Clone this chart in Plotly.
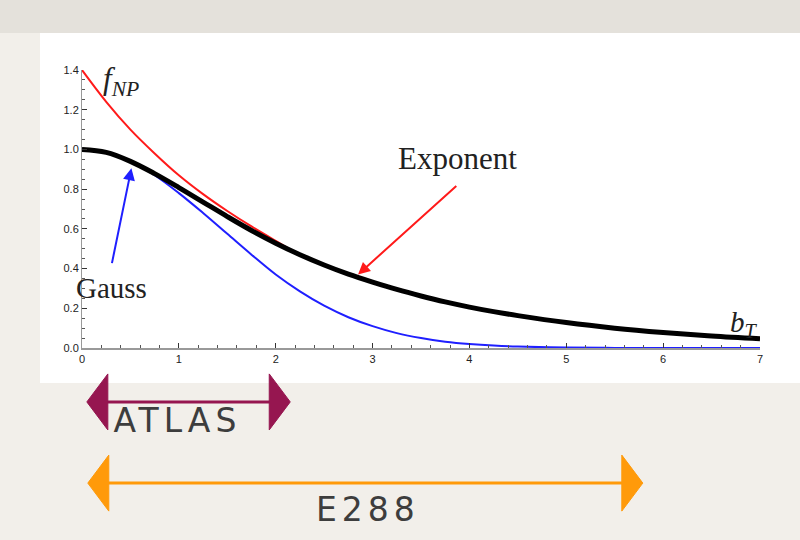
import plotly.graph_objects as go

# ---- data ----
bt_grid = [0, 0.25, 0.5, 0.75, 1.0, 1.25, 1.5, 1.75, 2.0, 2.25, 2.5, 2.75, 3.0,
           3.25, 3.5, 3.75, 4.0, 4.25, 4.5, 5.0, 5.5, 6.0, 6.5, 7.0]
f_black = [1.0, 0.985, 0.940, 0.878, 0.808, 0.735, 0.662, 0.592, 0.528, 0.470, 0.418,
           0.372, 0.332, 0.295, 0.262, 0.232, 0.206, 0.183, 0.163, 0.128, 0.100,
           0.078, 0.060, 0.046]
f_exponent = [1.40, 1.24, 1.10, 0.98, 0.87, 0.775, 0.69, 0.612, 0.54, 0.470, 0.418,
              0.372, 0.332, 0.295, 0.262, 0.232, 0.206, 0.183, 0.163, 0.128, 0.100,
              0.078, 0.060, 0.046]
f_gauss = [1.0, 0.985, 0.94, 0.87, 0.78, 0.68, 0.575, 0.47, 0.37, 0.285, 0.213,
           0.155, 0.11, 0.075, 0.05, 0.032, 0.02, 0.012, 0.007, 0.002, 0.0005,
           0.0, 0.0, 0.0]

x_ticks = [0, 1, 2, 3, 4, 5, 6, 7]
y_ticks = [0.0, 0.2, 0.4, 0.6, 0.8, 1.0, 1.2, 1.4]
y_ticklabels = ["0.0", "0.2", "0.4", "0.6", "0.8", "1.0", "1.2", "1.4"]

# experiment ranges in b_T (arrow tips)
atlas_range = [0.05, 2.15]
e288_range = [0.06, 5.79]

# ---- figure ----
BEIGE = "#f2efea"
fig = go.Figure()

fig.add_trace(go.Scatter(x=bt_grid, y=f_gauss, mode="lines",
                         line=dict(color="#1f1fff", width=2, shape="spline"),
                         showlegend=False, hoverinfo="skip"))
fig.add_trace(go.Scatter(x=bt_grid, y=f_exponent, mode="lines",
                         line=dict(color="#ff1a1a", width=2, shape="spline"),
                         showlegend=False, hoverinfo="skip"))
fig.add_trace(go.Scatter(x=bt_grid, y=f_black, mode="lines",
                         line=dict(color="#000000", width=5, shape="spline"),
                         showlegend=False, hoverinfo="skip"))

shapes = []
# top grey band and white panel (slide decoration)
shapes.append(dict(type="rect", xref="paper", yref="paper", x0=-0.125, x1=1.06,
                   y0=1.133, y1=1.26, fillcolor="#e4e1db", line_width=0, layer="below"))
shapes.append(dict(type="rect", xref="paper", yref="paper", x0=-0.0619, x1=1.06,
                   y0=-0.1259, y1=1.133, fillcolor="white", line_width=0, layer="below"))

def range_arrow(rng, ypaper, color):
    out = []
    out.append(dict(type="line", xref="x", yref="paper", x0=rng[0] + 0.1, x1=rng[1] - 0.1,
                    y0=ypaper, y1=ypaper, line=dict(color=color, width=3)))
    for xa, sgn in ((rng[0], 1), (rng[1], -1)):
        out.append(dict(type="path", xref="x", yref="paper", xsizemode="pixel",
                        ysizemode="pixel", xanchor=xa, yanchor=ypaper,
                        path=f"M0,0 L{sgn*21},28 L{sgn*21},-28 Z",
                        fillcolor=color, line=dict(color=color, width=1)))
    return out

shapes += range_arrow(atlas_range, -0.194, "#961650")
shapes += range_arrow(e288_range, -0.486, "#ff9a0a")

serif = "Liberation Serif"
annotations = [
    dict(x=0.40, y=1.345, xref="x", yref="y", showarrow=False, xanchor="center", yanchor="middle",
         text="<i>f</i><sub><i>NP</i></sub>", font=dict(family=serif, size=31, color="#222")),
    dict(x=0.30, y=0.30, xref="x", yref="y", showarrow=False, xanchor="center", yanchor="middle",
         text="Gauss", font=dict(family=serif, size=29, color="#222")),
    dict(x=3.88, y=0.955, xref="x", yref="y", showarrow=False, xanchor="center", yanchor="middle",
         text="Exponent", font=dict(family=serif, size=31, color="#222")),
    dict(x=6.83, y=0.12, xref="x", yref="y", showarrow=False, xanchor="center", yanchor="middle",
         text="<i>b</i><sub><i>T</i></sub>", font=dict(family=serif, size=29, color="#222")),
    # arrows
    dict(x=0.51, y=0.905, ax=0.306, ay=0.42, xref="x", yref="y", axref="x", ayref="y",
         showarrow=True, arrowhead=2, arrowsize=1.2, arrowwidth=2, arrowcolor="#1f1fff", text=""),
    dict(x=2.85, y=0.37, ax=3.88, ay=0.823, xref="x", yref="y", axref="x", ayref="y",
         showarrow=True, arrowhead=2, arrowsize=1.2, arrowwidth=2, arrowcolor="#ff1a1a", text=""),
    # experiment labels
    dict(x=0.99, y=-0.262, xref="x", yref="paper", showarrow=False, xanchor="center",
         yanchor="middle", text="ATLAS",
         font=dict(family="DejaVu Sans", size=33, color="#3d3d3d")),
    dict(x=2.95, y=-0.58, xref="x", yref="paper", showarrow=False, xanchor="center",
         yanchor="middle", text="E288",
         font=dict(family="DejaVu Sans", size=33, color="#3d3d3d")),
]

fig.update_layout(
    width=800, height=540,
    margin=dict(l=82, r=40, t=70, b=192),
    paper_bgcolor=BEIGE, plot_bgcolor="white",
    shapes=shapes, annotations=annotations, showlegend=False,
    xaxis=dict(range=[0, 7], tickvals=x_ticks, ticktext=[str(v) for v in x_ticks],
               showgrid=False, zeroline=False, showline=True, linecolor="#999", linewidth=2,
               ticks="inside", ticklen=5, tickcolor="#333", tickwidth=1,
               minor=dict(dtick=0.2, ticks="inside", ticklen=3, tickcolor="#555"),
               tickfont=dict(family="Liberation Sans", size=11, color="#222")),
    yaxis=dict(range=[0, 1.4], tickvals=y_ticks, ticktext=y_ticklabels,
               showgrid=False, zeroline=False, showline=True, linecolor="#999", linewidth=1,
               ticks="inside", ticklen=5, tickcolor="#333", tickwidth=1,
               minor=dict(dtick=0.05, ticks="inside", ticklen=3, tickcolor="#555"),
               tickfont=dict(family="Liberation Sans", size=11, color="#222")),
)

post = ("document.querySelectorAll('.annotation-text').forEach(function(t){"
        "if(t.textContent==='ATLAS'||t.textContent==='E288'){t.style.letterSpacing='5px';}});")
fig.write_html("out.html", post_script=post)
